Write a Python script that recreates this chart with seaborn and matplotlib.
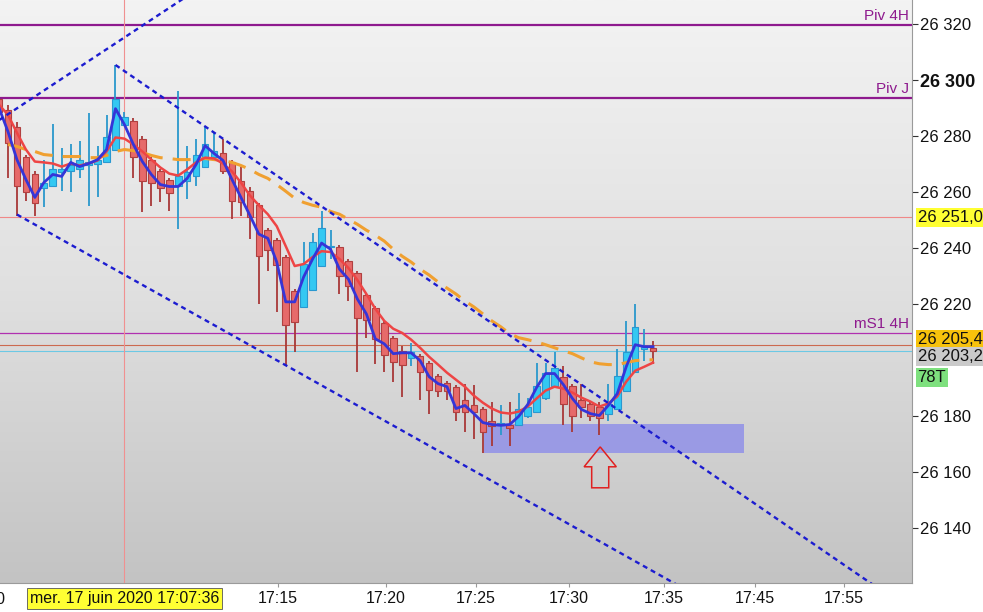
import numpy as np
import pandas as pd
import seaborn as sns
import matplotlib
matplotlib.use("Agg")
import matplotlib.pyplot as plt
from matplotlib.colors import LinearSegmentedColormap
from matplotlib.patches import Rectangle, Polygon

# candles (tick chart, one bar per 78 ticks)
opens = [26293.3, 26289.4, 26283.4, 26272.7, 26266.3, 26261.3, 26262.0, 26267.0, 26267.7, 26268.4,
         26269.5, 26270.2, 26270.9, 26275.2, 26284.1, 26285.5, 26279.1, 26271.6, 26267.4, 26264.2,
         26262.0, 26263.8, 26265.6, 26269.1, 26272.7, 26273.8, 26270.6, 26263.8, 26260.3, 26255.3,
         26246.4, 26242.8, 26236.8, 26224.7, 26219.0, 26225.0, 26233.6, 26240.3, 26240.3, 26235.4,
         26231.1, 26223.3, 26218.6, 26213.3, 26208.0, 26203.3, 26200.8, 26201.6, 26199.1, 26194.4,
         26192.0, 26190.5, 26185.6, 26183.8, 26182.7, 26178.1, 26177.0, 26177.0, 26176.7, 26179.9,
         26181.6, 26186.3, 26190.9, 26194.1, 26190.9, 26185.6, 26184.5, 26183.4, 26180.6, 26182.7,
         26189.1, 26195.9, 26204.0, 26204.4]
highs = [26294.7, 26291.2, 26285.1, 26273.4, 26267.4, 26271.3, 26284.4, 26275.9, 26277.3, 26278.4,
         26288.4, 26276.3, 26287.6, 26305.4, 26288.7, 26286.6, 26280.2, 26272.7, 26268.1, 26264.9,
         26296.2, 26276.3, 26279.1, 26283.4, 26281.6, 26279.1, 26271.6, 26269.1, 26261.7, 26256.0,
         26247.1, 26243.5, 26237.5, 26225.4, 26242.1, 26245.3, 26253.1, 26246.4, 26241.0, 26236.1,
         26231.8, 26224.0, 26219.3, 26214.0, 26208.7, 26205.1, 26206.2, 26202.3, 26199.8, 26195.2,
         26192.7, 26191.2, 26191.6, 26191.2, 26183.4, 26185.2, 26183.8, 26185.2, 26188.4, 26186.3,
         26199.1, 26199.1, 26203.0, 26198.0, 26191.6, 26191.6, 26185.2, 26185.2, 26191.6, 26204.0,
         26214.0, 26220.1, 26211.2, 26206.9]
lows = [26286.6, 26265.2, 26251.4, 26256.7, 26251.4, 26254.6, 26261.7, 26260.3, 26259.9, 26264.9,
        26254.9, 26258.1, 26270.6, 26274.8, 26283.7, 26265.2, 26252.8, 26254.9, 26256.3, 26253.1,
        26246.7, 26257.4, 26262.0, 26268.8, 26271.6, 26266.3, 26250.3, 26251.4, 26243.2, 26220.1,
        26231.8, 26217.2, 26198.0, 26203.0, 26218.6, 26224.7, 26233.2, 26236.1, 26223.6, 26221.1,
        26195.9, 26208.0, 26198.7, 26195.9, 26192.3, 26187.0, 26198.0, 26185.6, 26180.9, 26187.0,
        26185.6, 26178.1, 26174.5, 26172.0, 26166.7, 26169.5, 26173.1, 26169.5, 26176.3, 26179.2,
        26181.3, 26185.9, 26190.5, 26176.7, 26174.5, 26179.2, 26178.1, 26173.1, 26178.1, 26182.3,
        26188.8, 26195.5, 26199.8, 26198.7]
closes = [26288.7, 26277.7, 26262.0, 26259.9, 26256.0, 26263.1, 26268.4, 26268.1, 26269.5, 26271.3,
          26270.6, 26271.3, 26279.8, 26293.3, 26286.9, 26272.7, 26263.8, 26263.1, 26261.3, 26259.5,
          26265.9, 26267.0, 26273.4, 26277.3, 26274.5, 26267.4, 26256.7, 26256.3, 26251.0, 26237.1,
          26239.3, 26233.9, 26212.6, 26213.7, 26234.3, 26242.1, 26247.1, 26240.7, 26230.0, 26226.5,
          26215.1, 26214.4, 26207.6, 26201.9, 26199.4, 26198.4, 26203.0, 26195.9, 26189.5, 26189.1,
          26188.8, 26181.3, 26181.3, 26181.3, 26174.2, 26176.3, 26177.7, 26175.9, 26182.4, 26183.4,
          26190.9, 26195.5, 26197.3, 26184.5, 26180.2, 26183.1, 26180.2, 26179.2, 26184.5, 26194.4,
          26203.0, 26211.9, 26204.8, 26203.3]

# moving averages
ma_fast = [26290.1, 26281.6, 26271.6, 26264.5, 26258.1, 26263.4, 26266.3, 26265.6, 26270.6, 26269.1,
           26270.2, 26271.6, 26275.2, 26289.8, 26284.1, 26277.0, 26270.9, 26266.3, 26262.7, 26262.0,
           26262.0, 26264.9, 26269.9, 26276.6, 26273.8, 26271.3, 26264.5, 26258.1, 26251.7, 26245.0,
           26243.5, 26235.0, 26220.8, 26220.8, 26229.7, 26236.1, 26241.8, 26239.6, 26232.5, 26228.9,
           26221.8, 26216.5, 26207.6, 26205.8, 26202.3, 26202.6, 26202.6, 26199.8, 26194.1, 26191.6,
           26190.5, 26182.7, 26183.8, 26180.9, 26177.7, 26177.0, 26176.7, 26177.0, 26179.9, 26184.1,
           26190.2, 26195.2, 26195.2, 26191.2, 26186.3, 26182.4, 26180.9, 26180.2, 26183.8, 26188.0,
           26197.6, 26205.5, 26204.8, 26204.8]
ma_mid = [26291.2, 26287.6, 26281.2, 26275.2, 26270.9, 26270.6, 26270.2, 26269.1, 26270.2, 26269.5,
          26270.2, 26271.3, 26274.5, 26279.5, 26279.1, 26277.0, 26274.5, 26271.6, 26268.8, 26266.6,
          26265.9, 26268.1, 26270.6, 26272.3, 26272.0, 26270.2, 26267.4, 26263.4, 26258.8, 26255.3,
          26252.1, 26247.8, 26240.7, 26233.6, 26234.3, 26236.8, 26238.9, 26238.6, 26236.1, 26232.9,
          26228.6, 26223.6, 26218.3, 26214.0, 26211.2, 26209.7, 26207.3, 26204.4, 26201.2, 26198.4,
          26195.5, 26193.0, 26190.5, 26187.3, 26184.8, 26182.7, 26181.3, 26180.9, 26181.6, 26183.4,
          26186.3, 26189.1, 26190.5, 26189.8, 26188.4, 26186.6, 26185.2, 26183.4, 26184.5, 26187.0,
          26192.3, 26196.2, 26197.6, 26199.1]
ma_slow = [np.nan, 26277.0, 26276.3, 26275.2, 26274.5, 26273.4, 26273.1, 26272.7, 26272.7, 26272.7,
           26272.3, 26272.3, 26273.1, 26274.5, 26275.2, 26274.8, 26274.1, 26273.1, 26272.3, 26272.0,
           26271.6, 26271.6, 26271.6, 26272.0, 26271.6, 26271.3, 26270.6, 26269.5, 26268.1, 26266.3,
           26264.9, 26262.7, 26260.3, 26257.8, 26256.3, 26255.3, 26254.6, 26253.1, 26252.1, 26250.3,
           26248.5, 26246.4, 26244.6, 26242.5, 26239.6, 26237.1, 26235.0, 26232.5, 26230.4, 26227.9,
           26225.7, 26223.6, 26221.1, 26219.0, 26216.5, 26214.0, 26211.9, 26209.4, 26208.0, 26207.3,
           26206.5, 26205.5, 26204.4, 26203.3, 26202.3, 26200.8, 26199.4, 26198.7, 26198.4, 26198.4,
           26199.1, 26199.8, 26200.1, 26200.1]

price_ticks = [26140, 26160, 26180, 26220, 26240, 26260, 26280, 26300, 26320]
time_ticks = [31.1, 43.2, 53.2, 63.6, 74.2, 84.4, 94.3]
time_labels = ['17:15', '17:20', '17:25', '17:30', '17:35', '17:45', '17:55']
cross_bar = 14
cross_label = 'mer. 17 juin 2020 17:07:36'

piv_names = ['Piv 4H', 'Piv J', 'mS1 4H']
piv_prices = [26319.6, 26293.7, 26209.8]

last_price = 26203.2
ref_price = 26251.0
avg_price = 26205.4

# drawn trend lines (bar index, price)
top_line = ([0, 21], [26285.7, 26330.0])
upper_line = ([13, 100], [26305.4, 26114.4])
lower_line = ([2, 78], [26252.0, 26115.6])

zone_bars = (54.1, 83.1)
zone_prices = (26166.8, 26177.1)

arrow_bar = 67.1
arrow_prices = (26169.0, 26161.9, 26154.4)   # tip, neck, base
arrow_half = (1.8, 0.95)                     # head, shaft (bars)

plt.rcParams['font.family'] = ['Liberation Sans', 'DejaVu Sans']
narrow = ['Liberation Sans Narrow', 'Liberation Sans', 'DejaVu Sans']

fig = plt.figure(figsize=(9.83, 6.12), dpi=100)
fig.patch.set_facecolor('white')
ax = fig.add_axes([0, 29 / 612, 912 / 983, 583 / 612])

bg = LinearSegmentedColormap.from_list('bg', ['#f3f3f3', '#e0e0e0', '#c3c3c3'])
ax.imshow(np.linspace(0, 1, 256).reshape(-1, 1), cmap=bg, extent=[0, 1, 0, 1],
          transform=ax.transAxes, aspect='auto', zorder=0)

idx = np.arange(len(opens))
o = np.array(opens); c = np.array(closes)
up = c >= o

# support zone
ax.add_patch(Rectangle((zone_bars[0], zone_prices[0]), zone_bars[1] - zone_bars[0],
                       zone_prices[1] - zone_prices[0], facecolor='#9a9ae4', edgecolor='none', zorder=1))

# horizontal levels
ax.axhline(piv_prices[0], color='#8e1a8e', lw=1.6, zorder=1.5)
ax.axhline(piv_prices[1], color='#8e1a8e', lw=1.6, zorder=1.5)
ax.axhline(piv_prices[2], color='#b030b0', lw=0.9, zorder=1.5)
ax.axhline(ref_price, color='#f08888', lw=0.8, zorder=1.5)
ax.axhline(avg_price, color='#cc6a50', lw=0.8, zorder=1.5)
ax.axhline(last_price, color='#6cc8e4', lw=0.8, zorder=1.5)
ax.axvline(cross_bar, color='#f09090', lw=0.8, zorder=1.5)

for name, p in zip(piv_names, piv_prices):
    ax.annotate(name, xy=(1, p), xycoords=('axes fraction', 'data'), xytext=(-2, 1.5),
                textcoords='offset points', ha='right', va='bottom', fontsize=11, color='#8e1a8e')

# candles
wick_col = np.where(up, '#2a98cc', '#a83838')
body_col = np.where(up, '#33c8f2', '#e66a6a')
edge_col = np.where(up, '#2a98d0', '#b04040')
ax.vlines(idx, lows, highs, colors=wick_col, lw=1.3, zorder=2)
ax.bar(idx, np.maximum(np.abs(c - o), 0.4), bottom=np.minimum(o, c), width=0.74,
       color=body_col, edgecolor=edge_col, linewidth=0.8, zorder=3)

# moving averages
df = pd.DataFrame({'bar': idx, 'fast': ma_fast, 'mid': ma_mid, 'slow': ma_slow})
sns.lineplot(data=df, x='bar', y='slow', ax=ax, color='#f0a030', lw=2.2,
             linestyle=(0, (5.9, 3.3)), zorder=4)
sns.lineplot(data=df, x='bar', y='mid', ax=ax, color='#ee4545', lw=1.8, zorder=4)
sns.lineplot(data=df, x='bar', y='fast', ax=ax, color='#3535d8', lw=2.0, zorder=4.5)

# channel lines
for xs, ys in (top_line, upper_line, lower_line):
    ax.plot(xs, ys, color='#1c1cd0', lw=1.7, linestyle=(0, (2.1, 1.7)), zorder=5)

# arrow
tip, neck, base = arrow_prices
hw, sw = arrow_half
ax.add_patch(Polygon([(arrow_bar, tip), (arrow_bar + hw, neck), (arrow_bar + sw, neck),
                      (arrow_bar + sw, base), (arrow_bar - sw, base), (arrow_bar - sw, neck),
                      (arrow_bar - hw, neck)], closed=True, facecolor='none',
                     edgecolor='#e02020', lw=1.1, zorder=6))

ax.set_xlim(0.11, 101.9)
ax.set_ylim(26120.4, 26328.6)
ax.set_xlabel(''); ax.set_ylabel('')

# price axis on the right
ax.yaxis.tick_right()
ax.set_yticks(price_ticks)
ax.set_yticklabels([f'{p:,}'.replace(',', ' ') for p in price_ticks])
ax.tick_params(axis='y', direction='out', length=4, width=0.8, color='#333',
               labelcolor='#111', labelsize=12, pad=2)
for lab in ax.get_yticklabels():
    if lab.get_text() == '26 300':
        lab.set_fontweight('bold')
        lab.set_fontsize(13)

ax.set_xticks(time_ticks)
ax.set_xticklabels(time_labels, family=narrow, fontsize=11.5, color='#111')
ax.tick_params(axis='x', direction='out', length=3, width=0.8, color='#999', pad=3)

for s in ('left', 'top'):
    ax.spines[s].set_visible(False)
ax.spines['right'].set_color('#9a9a9a')
ax.spines['bottom'].set_color('#9a9a9a')

# value boxes on the price scale
def tag(price, text, color, dy):
    ax.annotate(text, xy=(1, price), xycoords=('axes fraction', 'data'), xytext=(4, dy),
                textcoords='offset points', ha='left', va='center', fontsize=12, color='#111',
                annotation_clip=False,
                bbox=dict(boxstyle='square,pad=0.12', facecolor=color, edgecolor='none'))

tag(ref_price, '26 251,0', '#ffff33', 0)
tag(avg_price, '26 205,4', '#f7c20c', 3.6)
tag(last_price, '26 203,2', '#cacaca', -4)
tag(last_price, '78T', '#7ee07e', -19)

# crosshair time box and cut-off first label
ax.annotate(cross_label, xy=(cross_bar, 0), xycoords=('data', 'axes fraction'), xytext=(0, -11),
            textcoords='offset points', ha='center', va='center', fontsize=11.5, family=narrow,
            color='#111', annotation_clip=False,
            bbox=dict(boxstyle='square,pad=0.2', facecolor='#ffff33', edgecolor='#555', lw=0.6))
fig.text(6 / 983, 13 / 612, '17:10', ha='right', va='center', fontsize=11.5, family=narrow, color='#111')

plt.savefig('out.png', dpi=100)
